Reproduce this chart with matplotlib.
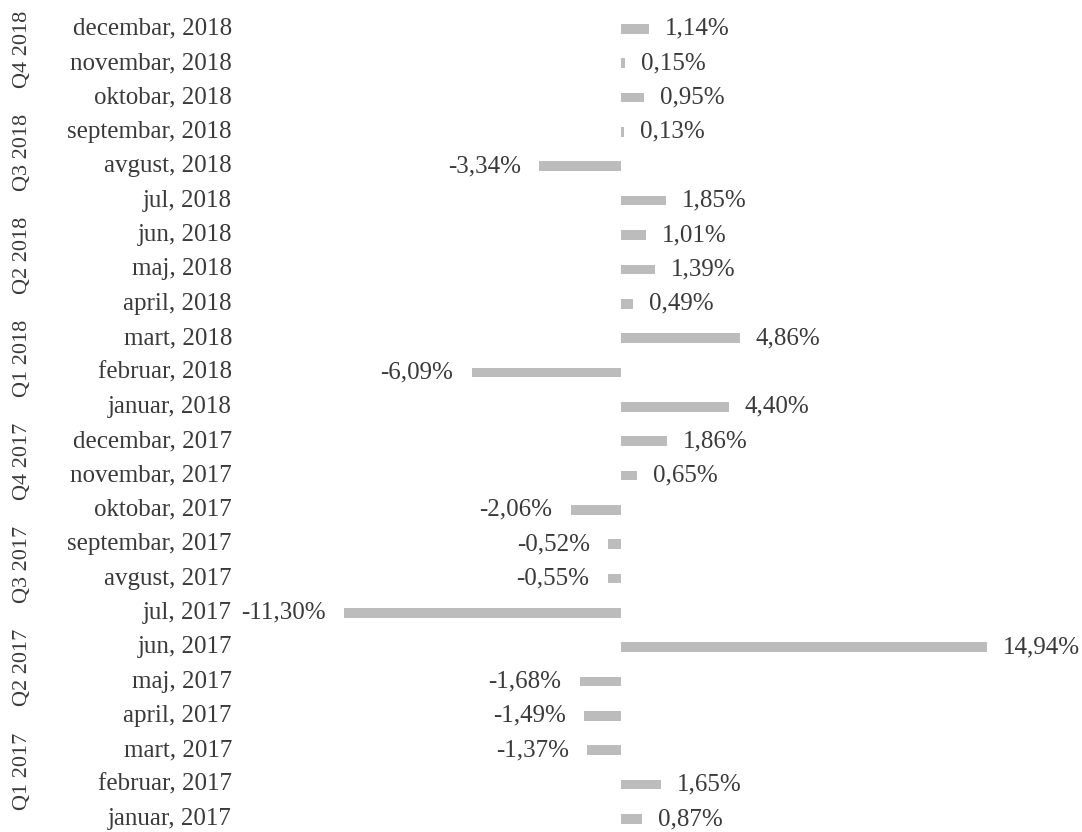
import matplotlib.pyplot as plt

months = ['januar, 2017', 'februar, 2017', 'mart, 2017', 'april, 2017', 'maj, 2017', 'jun, 2017',
          'jul, 2017', 'avgust, 2017', 'septembar, 2017', 'oktobar, 2017', 'novembar, 2017', 'decembar, 2017',
          'januar, 2018', 'februar, 2018', 'mart, 2018', 'april, 2018', 'maj, 2018', 'jun, 2018',
          'jul, 2018', 'avgust, 2018', 'septembar, 2018', 'oktobar, 2018', 'novembar, 2018', 'decembar, 2018']
values = [0.87, 1.65, -1.37, -1.49, -1.68, 14.94,
          -11.30, -0.55, -0.52, -2.06, 0.65, 1.86,
          4.40, -6.09, 4.86, 0.49, 1.39, 1.01,
          1.85, -3.34, 0.13, 0.95, 0.15, 1.14]
quarters = ['Q1 2017', 'Q2 2017', 'Q3 2017', 'Q4 2017', 'Q1 2018', 'Q2 2018', 'Q3 2018', 'Q4 2018']

plt.rcParams['font.family'] = ['Liberation Serif', 'DejaVu Serif']
text_color = '#3a3a3a'

fig = plt.figure(figsize=(10.82, 8.32), dpi=100)
ax = fig.add_axes([0, 0, 1, 1])

y = list(range(len(values)))
ax.barh(y, values, height=0.28, color='#bcbcbc')

ax.set_xlim(-25.35, 18.82)
ax.set_ylim(-0.378, 23.84)
ax.axis('off')

for i, v in enumerate(values):
    lab = f'{v:.2f}'.replace('.', ',') + '%'
    if v >= 0:
        ax.text(v + 0.65, i, lab, ha='left', va='center', fontsize=18, color=text_color)
    else:
        ax.text(v - 0.75, i, lab, ha='right', va='center', fontsize=18, color=text_color)
    ax.text(0.2144, i, months[i], transform=ax.get_yaxis_transform(), ha='right', va='center',
            fontsize=18, color=text_color)

for q, name in enumerate(quarters):
    ax.text(0.021, 3 * q + 1 + 0.4, name, transform=ax.get_yaxis_transform(), rotation=90,
            ha='center', va='center', fontsize=16, color=text_color)

fig.savefig('out.png', dpi=100)
